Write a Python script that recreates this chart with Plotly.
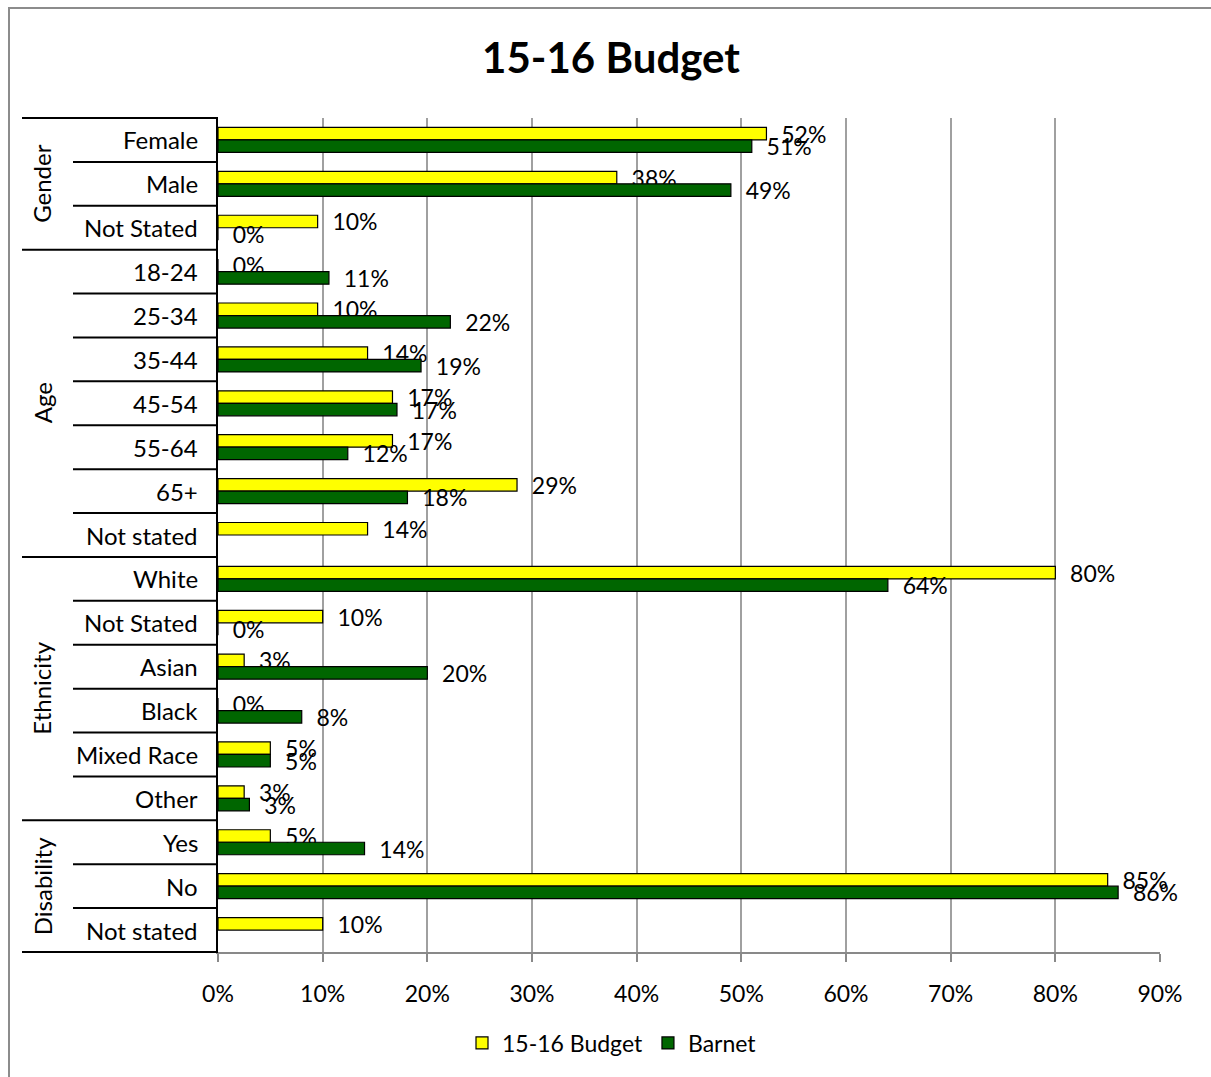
import plotly.graph_objects as go

# Survey breakdown: 15-16 Budget respondents vs. Barnet population (percent)
categories = ["Female", "Male", "Not Stated",
              "18-24", "25-34", "35-44", "45-54", "55-64", "65+", "Not stated",
              "White", "Not Stated", "Asian", "Black", "Mixed Race", "Other",
              "Yes", "No", "Not stated"]
budget_pct = [52.4, 38.1, 9.52,
              0, 9.52, 14.29, 16.67, 16.67, 28.57, 14.29,
              80.0, 10.0, 2.5, 0, 5.0, 2.5,
              5.0, 85.0, 10.0]
barnet_pct = [51.0, 49.0, 0,
              10.6, 22.2, 19.4, 17.1, 12.4, 18.1, None,
              64.0, 0, 20.0, 8.0, 5.0, 3.0,
              14.0, 86.0, None]
groups = [("Gender", 0, 3), ("Age", 3, 10), ("Ethnicity", 10, 16), ("Disability", 16, 19)]
x_ticks = [0, 10, 20, 30, 40, 50, 60, 70, 80, 90]
x_tick_labels = [f"{v}%" for v in x_ticks]

FONT = "Lato, 'Open Sans', sans-serif"
W, H = 1211, 1077
ML, MR, MT, MB = 218, 51, 118, 125
PW, PH = W - ML - MR, H - MT - MB
n = len(categories)
pos = list(range(n))


def px_to_paper_x(px):
    return (px - ML) / PW


def px_to_paper_y(py):
    return (H - MB - py) / PH


lbl = "\u00a0\u00a0%{x:.0f}%"

fig = go.Figure()
fig.add_trace(go.Bar(
    name="15-16 Budget", y=pos, x=budget_pct, orientation="h",
    marker=dict(color="#FFFF00", line=dict(color="#000000", width=1.2)),
    texttemplate=lbl, textposition="outside", cliponaxis=False,
    constraintext="none",
    textfont=dict(family=FONT, size=23, color="#000000"),
))
fig.add_trace(go.Bar(
    name="Barnet", y=pos, x=barnet_pct, orientation="h",
    marker=dict(color="#006600", line=dict(color="#000000", width=1.2)),
    texttemplate=lbl, textposition="outside", cliponaxis=False,
    constraintext="none",
    textfont=dict(family=FONT, size=23, color="#000000"),
))

shapes = []
annotations = []

# category labels and separator lines on the left
for i, c in enumerate(categories):
    annotations.append(dict(
        x=px_to_paper_x(200), xref="paper", y=i, yref="y",
        text=c, showarrow=False, xanchor="right", yanchor="middle",
        font=dict(family=FONT, size=24, color="#000000"),
    ))

group_edges = {g[1] for g in groups} | {groups[-1][2]}
for k in range(n + 1):
    x0 = 22 if k in group_edges else 73
    yp = 1 - k / n
    shapes.append(dict(
        type="line", xref="paper", yref="paper",
        x0=px_to_paper_x(x0), x1=0, y0=yp, y1=yp,
        line=dict(color="#000000", width=2),
    ))

for name, a, b in groups:
    annotations.append(dict(
        x=px_to_paper_x(42), xref="paper", y=(a + b - 1) / 2, yref="y",
        text=name, showarrow=False, textangle=-90,
        xanchor="center", yanchor="middle",
        font=dict(family=FONT, size=24, color="#000000"),
    ))

# outer chart frame
shapes.append(dict(
    type="rect", xref="paper", yref="paper",
    x0=px_to_paper_x(9), x1=px_to_paper_x(1230),
    y0=px_to_paper_y(1100), y1=px_to_paper_y(8),
    line=dict(color="#8c8c8c", width=2), fillcolor="rgba(0,0,0,0)",
    layer="below",
))

fig.update_layout(
    width=W, height=H,
    margin=dict(l=ML, r=MR, t=MT, b=MB, pad=0),
    paper_bgcolor="#ffffff", plot_bgcolor="#ffffff",
    barmode="group", bargap=0.43, bargroupgap=0,
    font=dict(family=FONT, size=23, color="#000000"),
    title=dict(text="<b>15-16 Budget</b>", x=611 / W, xanchor="center",
               y=1 - 58 / H, yanchor="middle",
               font=dict(family=FONT, size=42, color="#000000")),
    xaxis=dict(
        range=[0, 90], tickmode="array", tickvals=x_ticks, ticktext=x_tick_labels,
        showgrid=True, gridcolor="#a0a0a0", gridwidth=1.5,
        zeroline=False, showline=True, linecolor="#898989", linewidth=2,
        ticks="outside", ticklen=8, tickcolor="#898989", tickwidth=1.5,
        tickfont=dict(family=FONT, size=23, color="#000000"),
        ticklabelstandoff=12,
    ),
    yaxis=dict(
        range=[n - 0.5, -0.5], tickvals=[], showgrid=False, zeroline=False,
        showline=True, linecolor="#000000", linewidth=2,
    ),
    legend=dict(
        orientation="h", x=px_to_paper_x(612), xanchor="center",
        y=px_to_paper_y(1043), yanchor="middle",
        font=dict(family=FONT, size=23, color="#000000"),
        itemwidth=30, bgcolor="rgba(0,0,0,0)",
    ),
    shapes=shapes, annotations=annotations,
    showlegend=True,
)

fig.write_html("out.html")
